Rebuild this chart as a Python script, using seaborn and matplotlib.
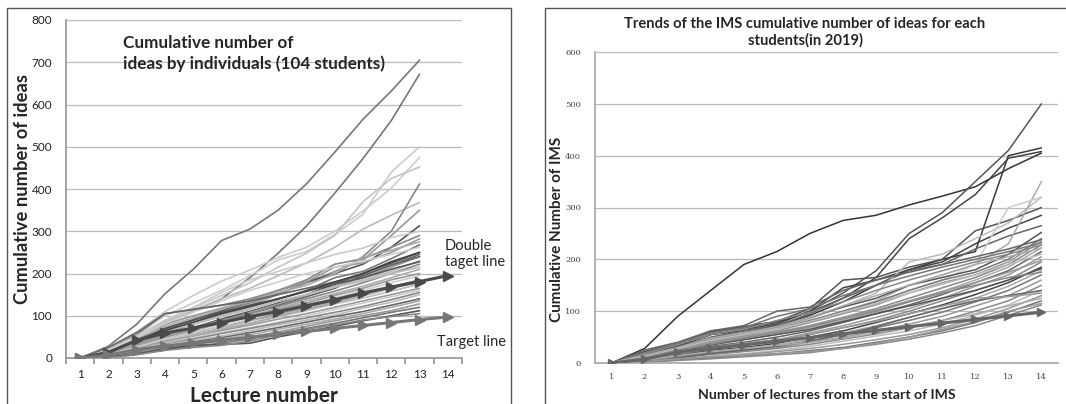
import pandas as pd
import matplotlib.pyplot as plt
import matplotlib.patches as patches
import seaborn as sns

# ---- left chart: cumulative ideas by individuals (lectures 1..13) ----
left_lectures = list(range(1, 14))
left_students = [
    [0, 28, 80, 152, 210, 278, 305, 350, 412, 487, 565, 632, 705],
    [0, 15, 45, 80, 112, 140, 190, 248, 312, 390, 472, 562, 672],
    [0, 22, 55, 100, 130, 160, 195, 232, 252, 292, 340, 440, 500],
    [0, 25, 62, 110, 148, 182, 208, 238, 262, 300, 348, 402, 475],
    [0, 18, 50, 88, 118, 148, 178, 215, 248, 290, 370, 425, 452],
    [0, 20, 50, 85, 112, 140, 165, 195, 225, 262, 305, 338, 368],
    [0, 12, 38, 68, 90, 110, 130, 152, 178, 198, 240, 300, 412],
    [0, 10, 35, 62, 82, 105, 125, 150, 178, 205, 232, 290, 350],
    [0, 12, 40, 70, 90, 112, 135, 160, 180, 200, 222, 262, 313],
    [0, 20, 55, 105, 115, 125, 140, 160, 185, 222, 235, 262, 290],
    [0, 15, 45, 80, 100, 118, 135, 160, 180, 215, 225, 250, 282],
    [0, 18, 48, 75, 95, 115, 135, 155, 172, 200, 238, 255, 275],
    [0, 12, 35, 60, 80, 100, 120, 140, 160, 190, 205, 235, 268],
    [0, 10, 30, 55, 72, 92, 110, 130, 150, 175, 200, 228, 250],
    [0, 8, 28, 50, 68, 85, 105, 125, 145, 165, 195, 220, 245],
    [0, 10, 30, 52, 70, 88, 108, 128, 150, 170, 190, 215, 240],
    [0, 15, 40, 62, 80, 98, 115, 135, 150, 168, 185, 205, 230],
    [0, 12, 35, 55, 72, 90, 105, 122, 140, 158, 178, 200, 222],
    [0, 10, 32, 52, 68, 85, 100, 118, 135, 152, 170, 190, 210],
    [0, 20, 52, 90, 120, 155, 185, 205, 225, 245, 260, 285, 300],
    [0, 18, 48, 82, 108, 135, 160, 180, 200, 215, 230, 245, 262],
    [0, 8, 25, 45, 60, 75, 90, 105, 120, 135, 150, 168, 185],
    [0, 10, 28, 45, 58, 72, 88, 102, 118, 132, 148, 165, 180],
    [0, 6, 22, 40, 55, 68, 82, 98, 112, 128, 142, 158, 175],
    [0, 8, 25, 40, 52, 65, 78, 92, 105, 120, 135, 150, 165],
    [0, 5, 20, 35, 48, 60, 72, 85, 100, 115, 130, 145, 160],
    [0, 6, 18, 32, 45, 58, 70, 82, 95, 108, 122, 138, 155],
    [0, 5, 15, 30, 42, 52, 65, 78, 90, 102, 118, 132, 150],
    [0, 4, 15, 28, 38, 48, 60, 72, 85, 98, 110, 125, 140],
    [0, 3, 12, 25, 35, 45, 55, 68, 80, 92, 105, 120, 135],
    [0, 3, 10, 22, 32, 40, 50, 62, 75, 88, 100, 112, 128],
    [0, 2, 8, 20, 28, 35, 45, 58, 70, 82, 95, 108, 120],
    [0, 2, 10, 22, 30, 32, 35, 50, 62, 75, 88, 100, 112],
    [0, 0, 8, 18, 25, 30, 40, 55, 68, 78, 90, 98, 105],
    [0, 25, 60, 105, 115, 125, 135, 150, 165, 180, 195, 220, 240],
    [0, 15, 42, 70, 90, 108, 125, 140, 158, 175, 190, 210, 228],
    [0, 12, 38, 62, 82, 100, 118, 135, 150, 168, 182, 200, 215],
    [0, 14, 40, 65, 85, 105, 122, 140, 158, 180, 200, 225, 250],
    [0, 10, 30, 50, 65, 82, 98, 115, 130, 148, 165, 185, 200],
    [0, 8, 26, 45, 60, 75, 92, 108, 125, 142, 160, 178, 195],
    [0, 6, 22, 38, 52, 68, 82, 98, 115, 130, 148, 165, 182],
]
left_greys = ['#777777', '#777777', '#cccccc', '#cccccc', '#c4c4c4', '#bbbbbb',
              '#888888', '#999999', '#555555', '#888888', '#999999', '#aaaaaa',
              '#777777', '#444444', '#666666', '#999999', '#bbbbbb', '#888888',
              '#aaaaaa', '#cccccc', '#d0d0d0', '#777777', '#aaaaaa', '#bbbbbb',
              '#999999', '#cccccc', '#888888', '#bbbbbb', '#666666', '#aaaaaa',
              '#999999', '#777777', '#555555', '#888888', '#666666', '#555555',
              '#bbbbbb', '#444444', '#999999', '#cccccc', '#aaaaaa']

all_lectures = list(range(1, 15))
left_double_target = [0, 13, 42, 59, 71, 84, 98, 110, 124, 138, 154, 168, 181, 195]
left_target = [0, 7, 20, 28, 35, 42, 49, 56, 63, 70, 77, 84, 91, 97]

# ---- right chart: IMS cumulative ideas 2019 (lectures 1..14) ----
right_students = [
    [0, 28, 90, 140, 190, 215, 250, 275, 285, 305, 322, 340, 375, 405],
    [0, 20, 35, 62, 68, 78, 100, 135, 178, 250, 290, 350, 410, 500],
    [0, 22, 38, 60, 70, 80, 98, 125, 165, 240, 280, 325, 395, 408],
    [0, 18, 32, 55, 62, 72, 92, 118, 150, 180, 200, 215, 400, 415],
    [0, 15, 35, 60, 70, 80, 105, 160, 165, 185, 200, 255, 275, 300],
    [0, 15, 32, 55, 65, 75, 100, 145, 160, 180, 195, 230, 260, 285],
    [0, 12, 30, 50, 62, 72, 95, 125, 150, 178, 190, 220, 245, 265],
    [0, 10, 25, 45, 55, 68, 85, 110, 135, 195, 210, 240, 270, 320],
    [0, 10, 25, 42, 52, 62, 80, 100, 120, 150, 170, 190, 230, 350],
    [0, 8, 22, 40, 52, 62, 78, 95, 115, 140, 160, 190, 300, 320],
    [0, 12, 30, 48, 58, 70, 88, 108, 125, 150, 165, 180, 210, 252],
    [0, 10, 28, 45, 55, 66, 82, 100, 118, 140, 160, 175, 200, 240],
    [0, 10, 25, 42, 52, 62, 78, 95, 112, 135, 155, 170, 195, 235],
    [0, 8, 22, 38, 48, 58, 72, 88, 105, 125, 145, 165, 190, 228],
    [0, 8, 20, 35, 45, 55, 68, 82, 98, 118, 138, 160, 185, 222],
    [0, 6, 18, 32, 40, 50, 62, 78, 95, 112, 132, 155, 178, 215],
    [0, 6, 16, 28, 36, 45, 58, 72, 88, 105, 125, 148, 170, 205],
    [0, 5, 15, 26, 34, 42, 55, 68, 82, 100, 120, 140, 160, 195],
    [0, 5, 14, 24, 30, 38, 50, 62, 78, 95, 112, 132, 155, 185],
    [0, 4, 12, 22, 28, 35, 46, 58, 72, 88, 105, 125, 148, 178],
    [0, 4, 12, 20, 26, 32, 42, 55, 68, 82, 98, 118, 140, 170],
    [0, 3, 10, 18, 24, 30, 40, 50, 62, 75, 90, 110, 130, 160],
    [0, 3, 10, 16, 22, 28, 36, 46, 56, 68, 82, 100, 120, 150],
    [0, 2, 8, 14, 18, 24, 32, 42, 52, 62, 75, 92, 112, 140],
    [0, 2, 8, 12, 16, 22, 28, 36, 45, 55, 68, 85, 105, 130],
    [0, 2, 6, 10, 14, 18, 24, 30, 40, 50, 62, 78, 98, 120],
    [0, 1, 5, 8, 12, 16, 20, 28, 36, 46, 58, 72, 92, 112],
    [0, 2, 10, 18, 25, 32, 42, 55, 70, 88, 105, 120, 130, 140],
    [0, 5, 18, 30, 38, 45, 55, 68, 80, 95, 110, 125, 128, 135],
    [0, 25, 40, 62, 72, 100, 108, 140, 160, 175, 190, 205, 220, 238],
    [0, 20, 38, 58, 68, 90, 105, 130, 150, 168, 185, 200, 215, 232],
    [0, 18, 35, 55, 65, 82, 98, 118, 140, 160, 178, 195, 210, 228],
    [0, 15, 30, 48, 58, 70, 88, 110, 130, 150, 170, 190, 205, 222],
    [0, 12, 28, 44, 55, 66, 80, 98, 115, 135, 152, 170, 190, 210],
    [0, 10, 25, 40, 50, 60, 72, 88, 102, 120, 138, 155, 175, 198],
    [0, 8, 22, 35, 45, 55, 65, 80, 95, 110, 125, 140, 160, 182],
    [0, 10, 24, 36, 48, 58, 70, 85, 100, 118, 135, 150, 165, 175],
    [0, 5, 14, 22, 28, 34, 40, 48, 58, 70, 82, 95, 110, 125],
    [0, 3, 8, 12, 15, 18, 22, 28, 38, 50, 65, 80, 100, 115],
]
right_greys = ['#333333', '#555555', '#444444', '#3a3a3a', '#555555', '#444444',
               '#666666', '#bbbbbb', '#aaaaaa', '#cccccc', '#555555', '#777777',
               '#999999', '#888888', '#aaaaaa', '#666666', '#999999', '#888888',
               '#444444', '#aaaaaa', '#777777', '#999999', '#888888', '#bbbbbb',
               '#999999', '#777777', '#888888', '#666666', '#999999', '#666666',
               '#777777', '#888888', '#aaaaaa', '#bbbbbb', '#999999', '#555555',
               '#888888', '#aaaaaa', '#999999']
right_target = [0, 7, 21, 28, 35, 42, 49, 56, 63, 70, 77, 84, 91, 98]


def long_frame(lectures, rows):
    recs = []
    for i, row in enumerate(rows):
        for lec, v in zip(lectures, row):
            recs.append({'student': i, 'lecture': lec, 'value': v})
    return pd.DataFrame(recs)


sns.set_theme(style='white')
plt.rcParams['font.family'] = ['Lato', 'DejaVu Sans']

fig = plt.figure(figsize=(10.66, 4.04), dpi=100)

# panel frames
for x0, x1 in [(7, 511), (545, 1075)]:
    fig.patches.append(patches.Rectangle((x0 / 1066, -0.05), (x1 - x0) / 1066, (404 - 8) / 404 + 0.05,
                                         transform=fig.transFigure, fill=False,
                                         edgecolor='#555555', lw=1.0))

# ---- left axes ----
ax1 = fig.add_axes([66 / 1066, 46 / 404, 396 / 1066, 338 / 404])
dfl = long_frame(left_lectures, left_students)
sns.lineplot(data=dfl, x='lecture', y='value', hue='student', palette=left_greys,
             legend=False, lw=1.2, ax=ax1)
ax1.plot(all_lectures, left_double_target, color='#4a4a4a', lw=2.2,
         marker='>', markersize=6.5, zorder=5)
ax1.plot(all_lectures, left_target, color='#777777', lw=2.2,
         marker='>', markersize=6.5, zorder=5)
ax1.set_xlim(0.5, 14.5)
ax1.set_ylim(0, 800)
ax1.set_yticks(range(0, 801, 100))
ax1.yaxis.grid(True, color='#bbbbbb', lw=0.9)
ax1.set_axisbelow(True)
ax1.set_xticks([x + 0.5 for x in range(0, 15)])
ax1.set_xticklabels([])
ax1.set_xticks(all_lectures, minor=True)
ax1.set_xticklabels([str(x) for x in all_lectures], minor=True)
ax1.tick_params(axis='x', which='major', length=4, color='#999999', direction='out', bottom=True)
ax1.tick_params(axis='x', which='minor', length=0, labelsize=8.5, pad=8, colors='#222222')
ax1.tick_params(axis='y', length=0, labelsize=8.5, pad=10, colors='#222222')
for s in ['top', 'right']:
    ax1.spines[s].set_visible(False)
for s in ['left', 'bottom']:
    ax1.spines[s].set_color('#999999')
ax1.set_xlabel('Lecture number', fontsize=15, fontweight='bold')
ax1.xaxis.set_label_coords(0.5, -0.083)
ax1.set_ylabel('Cumulative number of ideas', fontsize=13.2, fontweight='bold')
ax1.yaxis.set_label_coords(-0.088, 0.5)
ax1.text(0.145, 0.955, 'Cumulative number of\nideas by individuals (104 students)',
         transform=ax1.transAxes, fontsize=12.3, fontweight='bold', va='top', ha='left',
         linespacing=1.3)
fig.text(445 / 1066, 1 - 254 / 404, 'Double\ntaget line', fontsize=10.5,
         va='center', ha='left', linespacing=1.1)
fig.text(437 / 1066, 1 - 342 / 404, 'Target line', fontsize=10.5, va='center', ha='left')

# ---- right axes ----
ax2 = fig.add_axes([595 / 1066, 41 / 404, 463 / 1066, 311 / 404])
dfr = long_frame(all_lectures, right_students)
sns.lineplot(data=dfr, x='lecture', y='value', hue='student', palette=right_greys,
             legend=False, lw=1.1, ax=ax2)
ax2.plot(all_lectures, right_target, color='#666666', lw=2.2,
         marker='>', markersize=6, zorder=5)
ax2.set_xlim(0.5, 14.5)
ax2.set_ylim(0, 600)
ax2.set_yticks(range(0, 601, 100))
ax2.set_xticks(all_lectures)
ax2.yaxis.grid(True, color='#bbbbbb', lw=0.9)
ax2.set_axisbelow(True)
ax2.tick_params(axis='both', length=0, labelsize=6, colors='#444444')
ax2.tick_params(axis='x', pad=7)
ax2.tick_params(axis='y', pad=10)
for lab in ax2.get_xticklabels() + ax2.get_yticklabels():
    lab.set_family('DejaVu Serif')
for s in ['top', 'right']:
    ax2.spines[s].set_visible(False)
for s in ['left', 'bottom']:
    ax2.spines[s].set_color('#aaaaaa')
ax2.set_xlabel('Number of lectures from the start of IMS', fontsize=10.2, fontweight='bold')
ax2.xaxis.set_label_coords(0.5, -0.085)
ax2.set_ylabel('Cumulative Number of IMS', fontsize=11, fontweight='bold')
ax2.yaxis.set_label_coords(-0.067, 0.43)
fig.text(805 / 1066, 1 - 32 / 404,
         'Trends of the IMS cumulative number of ideas for each\nstudents(in 2019)',
         fontsize=10.6, fontweight='bold', ha='center', va='center', linespacing=1.15)

fig.savefig('out.png', dpi=100)
